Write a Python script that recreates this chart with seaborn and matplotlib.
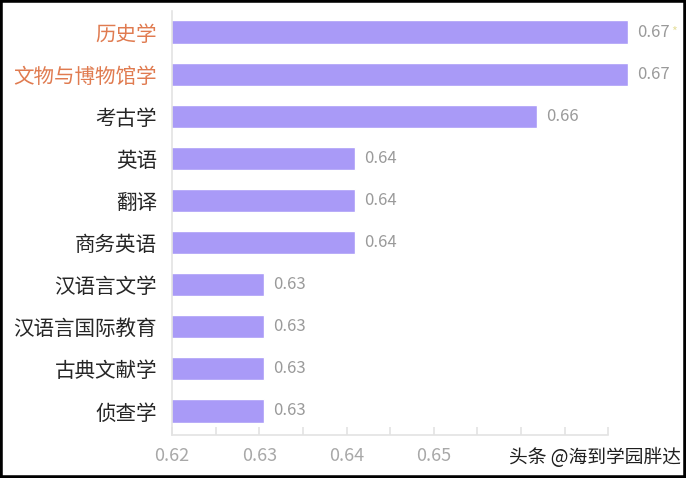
import pandas as pd
import seaborn as sns
import matplotlib.pyplot as plt
from matplotlib.patches import Rectangle

# Data (bar lengths are slightly above the rounded labels)
majors = ["历史学", "文物与博物馆学", "考古学", "英语", "翻译", "商务英语",
          "汉语言文学", "汉语言国际教育", "古典文献学", "侦查学"]
values = [0.6723, 0.6723, 0.6619, 0.6410, 0.6410, 0.6410,
          0.6305, 0.6305, 0.6305, 0.6305]
value_labels = ["0.67", "0.67", "0.66", "0.64", "0.64", "0.64",
                "0.63", "0.63", "0.63", "0.63"]
highlight = ["历史学", "文物与博物馆学"]
x_ticks = [0.62, 0.63, 0.64, 0.65, 0.66, 0.67]
# the last two tick labels are hidden under the watermark in the original
x_tick_labels = ["0.62", "0.63", "0.64", "0.65", "", ""]

df = pd.DataFrame({"major": majors, "value": values})

sns.set_theme(style="white")
plt.rcParams['font.family'] = ['Noto Sans CJK SC', 'DejaVu Sans']

fig = plt.figure(figsize=(6.86, 4.78), dpi=100)
ax = fig.add_axes([0.251, 0.09, 0.699, 0.887])

sns.barplot(data=df, x="value", y="major", orient="h", color="#a99af7",
            saturation=1, width=0.55, ax=ax)

ax.set_xlim(0.62, 0.675)
ax.set_ylim(9.57, -0.5)
ax.set_xlabel("")
ax.set_ylabel("")

# value labels
ax.bar_label(ax.containers[0], labels=value_labels, padding=6.5,
             fontsize=12, color="#9a9a9a")
ax.annotate("*", xy=(values[0], 0), xytext=(31, 0), textcoords="offset points",
            fontsize=9, color="#e6e0a0", va="center")

# axes styling
for side in ["top", "right"]:
    ax.spines[side].set_visible(False)
for side in ["left", "bottom"]:
    ax.spines[side].set_color("#e3e3e3")
    ax.spines[side].set_linewidth(1.2)
ax.spines["bottom"].set_bounds(0.62, 0.67)

ax.set_xticks(x_ticks)
ax.set_xticklabels(x_tick_labels)
ax.set_xticks([t + 0.005 for t in x_ticks[:-1]], minor=True)
ax.tick_params(axis="x", which="both", direction="in", length=6, width=1.2,
               color="#e3e3e3", bottom=True, labelsize=13, labelcolor="#a8a8a8",
               pad=9)
ax.tick_params(axis="y", length=0, labelsize=14.8, pad=11)
for lbl in ax.get_yticklabels():
    lbl.set_color("#e07b50" if lbl.get_text() in highlight else "#262626")

# watermark
fig.text(0.992, 0.043, "头条 @海到学园胖达", ha="right", va="center",
         fontsize=13.5, color="#1e1e1e")

# black frame around the picture
fig.patches.append(Rectangle((0, 0), 1, 1, transform=fig.transFigure,
                             fill=False, edgecolor="black", linewidth=4))

fig.savefig("out.png", dpi=100)
